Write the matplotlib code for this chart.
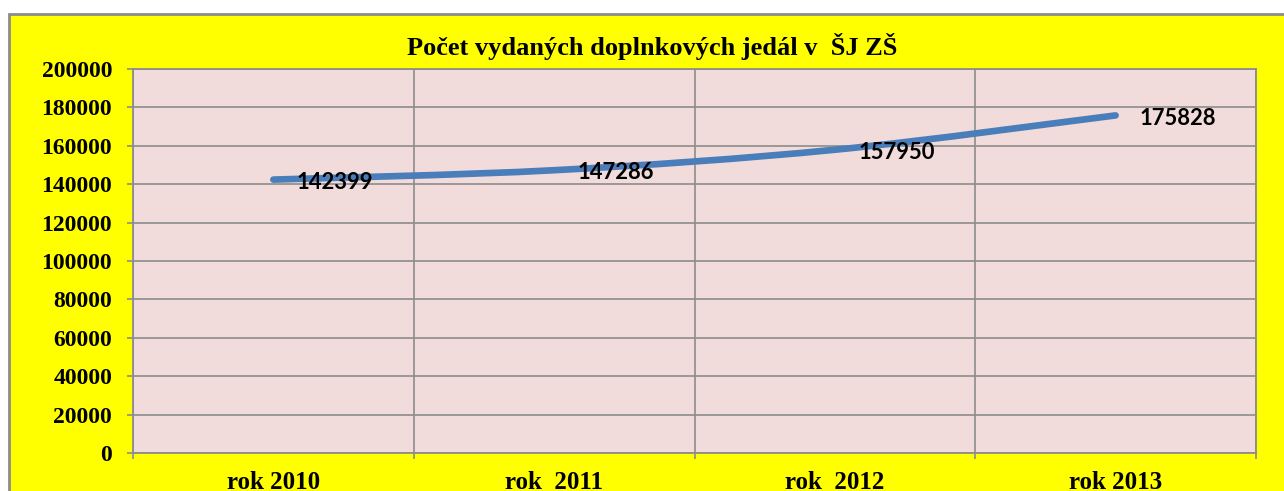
import matplotlib
matplotlib.use("Agg")
import matplotlib.pyplot as plt
from matplotlib.patches import Rectangle, PathPatch
from matplotlib.path import Path
import numpy as np

categories = ["rok 2010", "rok  2011", "rok  2012", "rok 2013"]
values = [142399, 147286, 157950, 175828]
yticks = [0, 20000, 40000, 60000, 80000, 100000, 120000, 140000, 160000, 180000, 200000]
title = "Počet vydaných doplnkových jedál v  ŠJ ZŠ"

W, H = 1284, 491
fig = plt.figure(figsize=(W / 100, H / 100), dpi=100)
fig.patch.set_facecolor("white")

# yellow chart area with gray border
fig.patches.append(Rectangle((9 / W, -0.05), 1.1, 1 - 14 / H + 0.05, transform=fig.transFigure,
                             facecolor="#FFFF00", edgecolor="#8C8C8C", linewidth=2, zorder=-5))

ax = fig.add_axes([133 / W, 1 - 453 / H, (1256 - 133) / W, (453 - 69) / H])
ax.set_zorder(2)
ax.set_facecolor("#F2DCDB")
ax.set_xlim(-0.5, len(categories) - 0.5)
ax.set_ylim(0, 200000)

serif = ["Liberation Serif", "DejaVu Serif"]
ax.set_yticks(yticks)
ax.set_yticklabels([str(v) for v in yticks], fontfamily=serif, fontweight="bold", fontsize=17)
x = np.arange(len(categories))
ax.set_xticks(x)
ax.set_xticklabels(categories, fontfamily=serif, fontweight="bold", fontsize=18)
ax.set_xticks(np.arange(len(categories) + 1) - 0.5, minor=True)
ax.tick_params(axis="x", which="major", length=0, pad=13)
ax.tick_params(axis="x", which="minor", length=4.5, width=1.2, color="#8C8C8C", direction="out")
ax.tick_params(axis="y", length=4.5, width=1.2, color="#8C8C8C", direction="out", pad=10.5)

ax.grid(True, axis="y", color="#8C8C8C", linewidth=1.2, zorder=1)
ax.grid(True, axis="x", which="minor", color="#8C8C8C", linewidth=1.2, zorder=1)
ax.set_axisbelow(True)
for s in ax.spines.values():
    s.set_color("#8C8C8C")
    s.set_linewidth(1.3)

# smoothed line (Catmull-Rom style Bezier through data points)
xs = x.astype(float)
ys = np.array(values, dtype=float)
verts = [(xs[0], ys[0])]
codes = [Path.MOVETO]
n = len(xs)
t = 1 / 6
for i in range(n - 1):
    p0 = (xs[i - 1], ys[i - 1]) if i > 0 else (xs[i], ys[i])
    p1 = (xs[i], ys[i])
    p2 = (xs[i + 1], ys[i + 1])
    p3 = (xs[i + 2], ys[i + 2]) if i + 2 < n else p2
    c1 = (p1[0] + (p2[0] - p0[0]) * t, p1[1] + (p2[1] - p0[1]) * t)
    c2 = (p2[0] - (p3[0] - p1[0]) * t, p2[1] - (p3[1] - p1[1]) * t)
    verts += [c1, c2, p2]
    codes += [Path.CURVE4] * 3
ax.add_patch(PathPatch(Path(verts, codes), facecolor="none", edgecolor="#4A7EBB",
                       linewidth=4.8, capstyle="round", zorder=3))

for xi, v in zip(xs, values):
    ax.annotate(str(v), (xi, v), xytext=(17, -2), textcoords="offset points",
                ha="left", va="center", fontfamily=["Lato", "Liberation Sans", "DejaVu Sans"],
                fontweight="bold", fontsize=15.8, zorder=4)

fig.text(652 / W, 1 - 47 / H, title, ha="center", va="center", fontfamily=serif,
         fontweight="bold", fontsize=19)

fig.savefig("out.png", dpi=100)
